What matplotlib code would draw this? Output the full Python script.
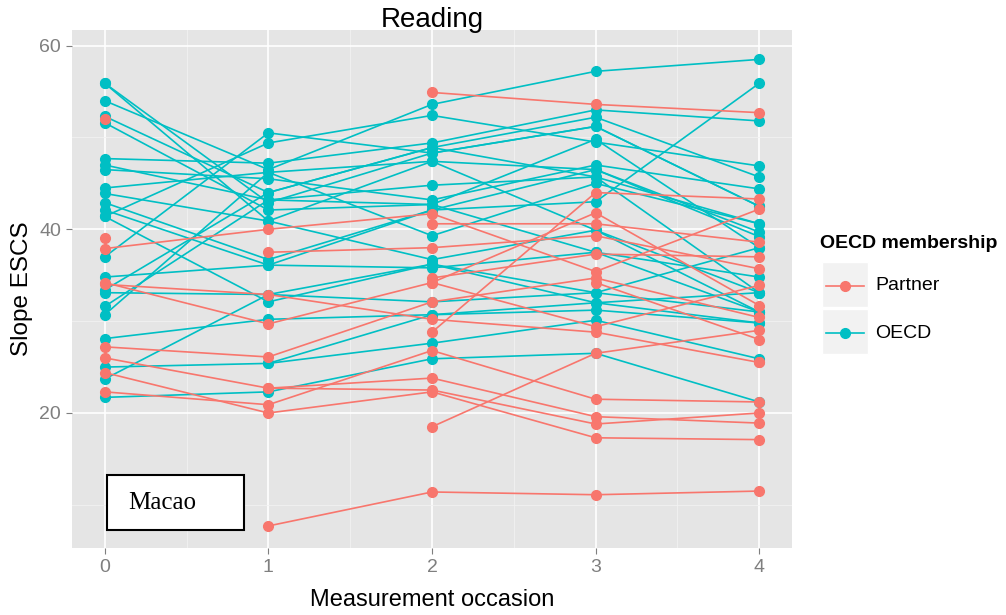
import numpy as np
import matplotlib
matplotlib.use("Agg")
import matplotlib.pyplot as plt
from matplotlib.patches import Rectangle
from matplotlib.lines import Line2D

nan = np.nan
occasions = [0, 1, 2, 3, 4]

# slope ESCS per country at measurement occasions 0..4 (nan = not measured)
partner_slopes = [
    [52.0, nan, nan, nan, nan],
    [39.1, nan, nan, nan, nan],
    [37.9, 40.0, 41.7, 35.4, 42.2],
    [34.2, 29.7, 34.2, 29.4, 33.9],
    [34.0, 32.9, 30.2, 28.8, 25.5],
    [27.2, 26.1, 32.1, 34.7, 30.4],
    [26.0, 22.7, 22.5, 18.8, 20.0],
    [24.4, 20.0, 22.3, 17.3, 17.1],
    [22.3, 20.9, 26.8, 21.5, 21.2],
    [nan, 37.5, 38.0, 39.3, 35.7],
    [nan, 7.7, 11.4, 11.1, 11.5],
    [nan, 22.7, 23.8, 19.6, 18.9],
    [nan, nan, 54.9, 53.6, 52.7],
    [nan, nan, 40.6, 40.6, 38.6],
    [nan, nan, 34.7, 37.3, 37.0],
    [nan, nan, 28.8, 44.0, 43.3],
    [nan, nan, 18.5, 26.5, 29.0],
    [nan, nan, 34.2, 41.8, 31.7],
    [nan, nan, nan, 34.2, 28.0],
    [nan, nan, nan, nan, 25.5],
]

oecd_slopes = [
    [55.9, 42.9, 48.3, 51.2, 42.5],
    [55.9, 40.9, 47.4, 46.5, 39.7],
    [54.0, 46.5, 53.6, 57.2, 58.5],
    [52.3, 44.0, 48.9, 52.2, 45.7],
    [51.6, 42.1, 42.7, 49.8, 38.0],
    [47.7, 47.2, 49.4, 53.0, 51.8],
    [47.0, 43.2, 44.8, 45.7, 33.1],
    [46.5, 45.5, 43.2, 47.0, 44.4],
    [44.5, 46.2, 39.3, 45.0, 40.6],
    [43.9, 40.9, 36.7, 39.9, 31.0],
    [42.9, 36.7, 42.1, 43.0, 55.9],
    [42.1, 36.1, 35.8, 37.5, 34.8],
    [41.4, 49.4, 52.4, 49.5, 46.9],
    [41.4, 32.1, 36.2, 32.0, 29.8],
    [37.0, 50.5, 48.3, 51.2, 42.5],
    [34.8, 36.1, 42.1, 46.5, 39.2],
    [33.4, 44.0, 48.9, 45.7, 40.6],
    [33.1, 32.9, 36.2, 33.1, 38.0],
    [31.6, 43.2, 42.7, 37.5, 31.0],
    [30.7, 46.2, 47.4, 39.9, 33.1],
    [28.1, 30.2, 30.7, 31.2, 29.8],
    [25.0, 25.4, 27.6, 30.1, 25.9],
    [23.7, 32.9, 32.1, 33.1, 31.0],
    [21.7, 22.3, 25.9, 26.5, 21.2],
    [nan, 25.4, 30.7, 32.0, 33.1],
]

group_names = ["Partner", "OECD"]
group_colors = ["#F8766D", "#00BFC4"]

plt.rcParams['font.family'] = ['Liberation Sans', 'DejaVu Sans']

fig = plt.figure(figsize=(10.06, 6.15), dpi=100)
ax = fig.add_axes([72/1006, 1-548/615, 720/1006, 518/615])
ax.set_facecolor("#E5E5E5")

for slopes, col in [(oecd_slopes, group_colors[1]), (partner_slopes, group_colors[0])]:
    for row in slopes:
        y = np.array(row, dtype=float)
        ok = ~np.isnan(y)
        x = np.array(occasions)[ok]
        ax.plot(x, y[ok], color=col, lw=1.2, marker='o', ms=7, mec=col, zorder=3)

ax.set_xlim(-0.2, 4.2)
ax.set_ylim(5.3, 61.7)
ax.set_xticks(occasions)
ax.set_yticks([20, 40, 60])
ax.set_xticks([0.5, 1.5, 2.5, 3.5], minor=True)
ax.set_yticks([10, 30, 50], minor=True)
ax.grid(True, which='major', color='white', lw=1.2)
ax.grid(True, which='minor', color='#F2F2F2', lw=0.6)
ax.set_axisbelow(True)
for s in ax.spines.values():
    s.set_visible(False)
ax.tick_params(which='major', colors='#7F7F7F', labelsize=14, length=4, pad=4)
ax.tick_params(which='minor', length=0)

ax.set_title("Reading", fontsize=20, y=(548-20)/518, va='center', pad=0)
ax.set_xlabel("Measurement occasion", fontsize=17)
ax.set_ylabel("Slope ESCS", fontsize=17.5)
ax.xaxis.label.set_va('center')
ax.yaxis.label.set_va('center')
ax.xaxis.set_label_coords(0.5, -(600-548)/518)
ax.yaxis.set_label_coords(-(72-22)/720, 0.5)

# Macao label box
ax.add_patch(Rectangle((35/720, 18/518), 137/720, 55/518, transform=ax.transAxes,
                       facecolor='white', edgecolor='black', lw=1.5, zorder=5))
ax.text(56/720, 45/518, "Macao", transform=ax.transAxes, fontsize=18,
        family=['Liberation Serif', 'DejaVu Serif'], va='center', ha='left', zorder=6)

# legend
fig.text(820/1006, 1-243/615, "OECD membership", fontsize=14, fontweight='bold',
         va='center', ha='left')
for i, (name, col) in enumerate(zip(group_names, group_colors)):
    top = 262 + i * 47
    fig.patches.append(Rectangle((822/1006, 1-(top+45)/615), 46/1006, 45/615,
                                 transform=fig.transFigure, facecolor='#F2F2F2',
                                 edgecolor='white', lw=1))
    yc = 1 - (top + 24)/615
    fig.lines.append(Line2D([826/1006, 864/1006], [yc, yc], transform=fig.transFigure,
                            color=col, lw=1.2))
    fig.lines.append(Line2D([845/1006], [yc], transform=fig.transFigure, color=col,
                            marker='o', ms=7))
    fig.text(875/1006, yc, name, fontsize=14, va='center', ha='left')

fig.savefig("out.png", dpi=100)
